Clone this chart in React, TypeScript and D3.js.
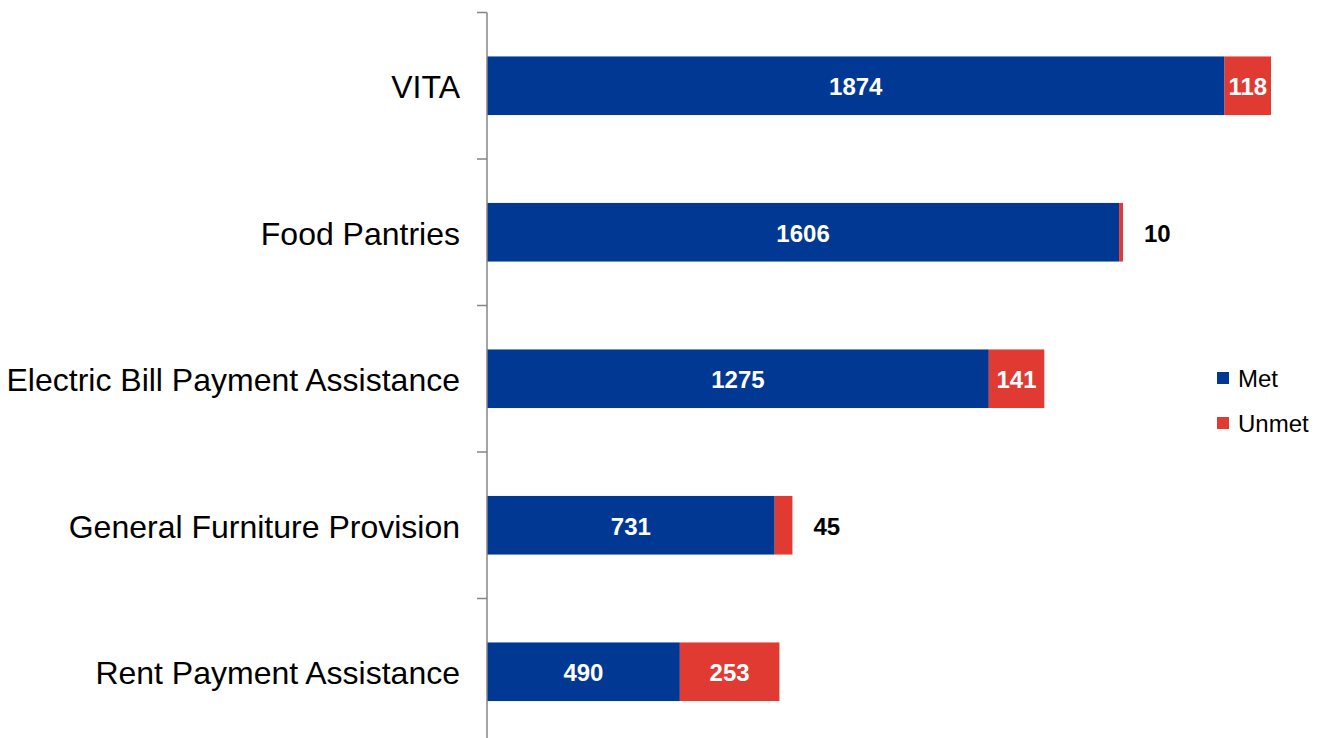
import React from "react";
import * as d3 from "d3";

const categories = [
  "VITA",
  "Food Pantries",
  "Electric Bill Payment Assistance",
  "General Furniture Provision",
  "Rent Payment Assistance",
];
const metValues = [1874, 1606, 1275, 731, 490];
const unmetValues = [118, 10, 141, 45, 253];
const seriesNames = ["Met", "Unmet"];
const seriesColors = ["#003893", "#E03A33"];

const W = 1321;
const H = 738;

export default function App() {
  const x = d3.scaleLinear().domain([0, 1992]).range([487, 1271]);
  const y = d3
    .scaleBand<string>()
    .domain(categories)
    .range([12.5, 745])
    .paddingInner(0.6)
    .paddingOuter(0.3);
  const step = y.step();
  const bw = y.bandwidth();
  const ticks = d3.range(categories.length + 1).map((i) => 12.5 + i * step);

  return (
    <div style={{ position: "absolute", left: 0, top: 0 }}>
      <svg width={W} height={H} style={{ display: "block" }} fontFamily="'Liberation Sans', Arial, sans-serif">
        <rect width={W} height={H} fill="#fff" />
        {categories.map((c, i) => {
          const y0 = y(c)!;
          const xm = x(metValues[i]);
          const xu = x(metValues[i] + unmetValues[i]);
          const cy = y0 + bw / 2 + 1;
          const unmetWide = xu - xm > 40;
          return (
            <g key={c}>
              <rect x={x(0)} y={y0} width={xm - x(0)} height={bw} fill={seriesColors[0]} />
              <rect x={xm} y={y0} width={xu - xm} height={bw} fill={seriesColors[1]} />
              <text x={(x(0) + xm) / 2} y={cy} dy="0.36em" textAnchor="middle" fill="#fff" fontWeight="bold" fontSize={24}>
                {metValues[i]}
              </text>
              {unmetWide ? (
                <text x={(xm + xu) / 2} y={cy} dy="0.36em" textAnchor="middle" fill="#fff" fontWeight="bold" fontSize={24}>
                  {unmetValues[i]}
                </text>
              ) : (
                <text x={xu + 21} y={cy} dy="0.36em" textAnchor="start" fill="#000" fontWeight="bold" fontSize={24}>
                  {unmetValues[i]}
                </text>
              )}
              <text x={460} y={cy} dy="0.36em" textAnchor="end" fill="#000" fontSize={32}>
                {c}
              </text>
            </g>
          );
        })}
        <line x1={487} x2={487} y1={12.5} y2={H} stroke="#868686" strokeWidth={1.5} />
        {ticks.map((t, i) => (
          <line key={i} x1={477} x2={487} y1={t} y2={t} stroke="#868686" strokeWidth={1.5} />
        ))}
        {seriesNames.map((s, i) => (
          <g key={s} transform={`translate(1217, ${378 + i * 45})`}>
            <rect x={0} y={-6} width={12} height={12} fill={seriesColors[i]} />
            <text x={21} y={0} dy="0.36em" fontSize={24} fill="#000">
              {s}
            </text>
          </g>
        ))}
      </svg>
    </div>
  );
}
